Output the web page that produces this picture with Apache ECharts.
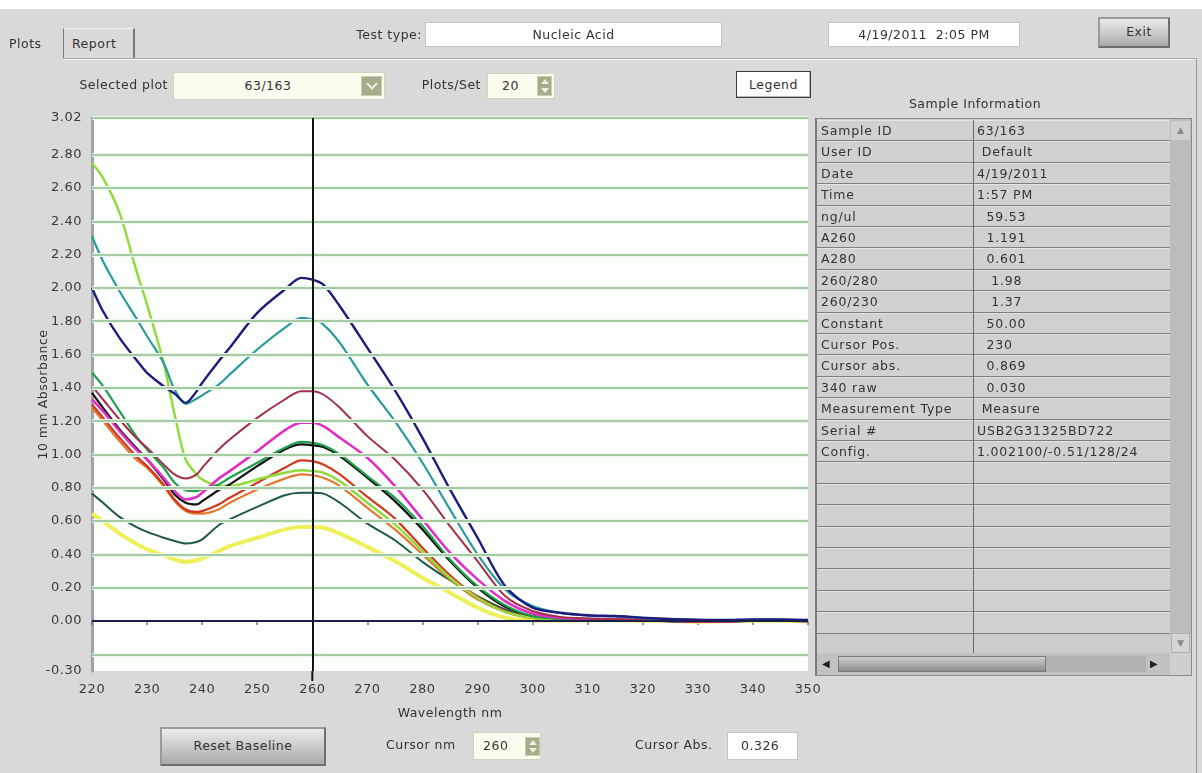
<!DOCTYPE html>
<html><head><meta charset="utf-8">
<script src="https://cdn.jsdelivr.net/npm/echarts@6/dist/echarts.min.js"></script>
<style>
html,body{margin:0;padding:0;width:1202px;height:773px;overflow:hidden;background:#d9d9d9;font-family:"DejaVu Sans",sans-serif;font-size:12.5px;color:#333;letter-spacing:0.5px;}
#chart{position:absolute;left:0;top:0;width:1202px;height:773px;}
.a{position:absolute;box-sizing:border-box;white-space:pre;}
.t{position:absolute;white-space:pre;line-height:16px;}
.olive{position:absolute;box-sizing:border-box;background:#a5ac88;border:1px solid #c9cdb8;}
.btn{position:absolute;box-sizing:border-box;background:linear-gradient(#ececec,#c4c4c4 60%,#a9a9a9);border:2px solid #6e6e6e;border-top-color:#9a9a9a;border-left-color:#9a9a9a;text-align:center;}
.row{position:absolute;box-sizing:border-box;left:817px;width:353px;background:#d1d1d1;border-bottom:1px solid #7e7e7e;border-top:1px solid #e4e4e4;}
.c1,.c2{position:absolute;top:0;white-space:pre;letter-spacing:0.8px;}
.c1{left:4px;}
.c2{left:160px;}
</style></head>
<body>
<div id="chart"></div>
<div id="ui"></div>
<script>
// ---------- data ----------
const wavelengths = [220,222,225,228,230,233,235,237,239,240,243,245,250,255,258,260,262,265,270,275,280,285,290,295,300,305,310,315,320,325,330,335,340,345,350];
const navy      = [2.00,1.86,1.70,1.57,1.49,1.41,1.365,1.31,1.38,1.43,1.56,1.64,1.85,1.99,2.06,2.05,2.02,1.89,1.64,1.385,1.10,0.79,0.50,0.21,0.08,0.05,0.035,0.03,0.02,0.012,0.008,0.006,0.01,0.01,0.006];
const teal      = [2.31,2.16,1.98,1.82,1.71,1.55,1.39,1.305,1.335,1.355,1.42,1.48,1.63,1.76,1.82,1.81,1.78,1.67,1.42,1.20,0.95,0.67,0.40,0.19,0.09,0.048,0.033,0.028,0.018,0.01,0.006,0.005,0.008,0.009,0.005];
const lightGreen= [2.75,2.66,2.45,2.11,1.90,1.55,1.24,0.97,0.88,0.85,0.81,0.81,0.85,0.89,0.905,0.90,0.89,0.84,0.71,0.58,0.42,0.26,0.14,0.055,0.02,0.01,0.01,0.008,0.004,0.0,-0.004,-0.002,0.003,0.003,0.0];
const maroon    = [1.41,1.33,1.21,1.10,1.04,0.94,0.88,0.855,0.88,0.92,1.03,1.09,1.22,1.33,1.38,1.38,1.36,1.28,1.11,0.97,0.79,0.57,0.36,0.15,0.06,0.025,0.015,0.01,0.005,0.0,-0.004,-0.003,0.003,0.004,0.0];
const magenta   = [1.33,1.26,1.14,1.03,0.97,0.86,0.78,0.73,0.745,0.77,0.855,0.90,1.02,1.145,1.19,1.19,1.17,1.10,0.98,0.81,0.61,0.41,0.25,0.12,0.045,0.02,0.013,0.01,0.005,0.0,-0.004,-0.003,0.003,0.004,0.0];
const green     = [1.49,1.41,1.26,1.11,1.03,0.92,0.83,0.785,0.78,0.79,0.82,0.86,0.95,1.04,1.075,1.07,1.055,1.00,0.87,0.74,0.57,0.37,0.21,0.095,0.03,0.015,0.012,0.01,0.005,0.0,-0.005,-0.003,0.003,0.004,0.0];
const black     = [1.37,1.28,1.15,1.04,0.97,0.85,0.76,0.71,0.70,0.72,0.785,0.82,0.93,1.03,1.06,1.055,1.045,0.99,0.86,0.72,0.55,0.36,0.20,0.085,0.03,0.015,0.012,0.01,0.005,0.0,-0.005,-0.003,0.003,0.004,0.0];
const rust      = [1.30,1.22,1.10,0.99,0.93,0.82,0.73,0.67,0.655,0.66,0.70,0.74,0.83,0.92,0.965,0.96,0.94,0.88,0.745,0.615,0.44,0.275,0.145,0.06,0.02,0.012,0.01,0.008,0.004,0.0,-0.004,-0.002,0.003,0.003,0.0];
const orange    = [1.28,1.20,1.08,0.97,0.92,0.81,0.72,0.66,0.645,0.645,0.67,0.71,0.79,0.855,0.88,0.875,0.86,0.81,0.68,0.55,0.40,0.25,0.13,0.055,0.018,0.01,0.01,0.008,0.004,0.0,-0.004,-0.002,0.003,0.003,0.0];
const darkTeal  = [0.765,0.71,0.625,0.565,0.535,0.50,0.48,0.465,0.475,0.49,0.575,0.61,0.685,0.755,0.77,0.77,0.765,0.71,0.585,0.485,0.355,0.245,0.15,0.07,0.02,0.01,0.01,0.008,0.004,0.0,-0.004,-0.002,0.003,0.003,0.0];
const yellow    = [0.645,0.60,0.525,0.465,0.43,0.395,0.37,0.355,0.365,0.375,0.42,0.45,0.50,0.55,0.565,0.565,0.56,0.525,0.445,0.36,0.26,0.17,0.08,0.02,0.005,0.003,0.004,0.004,0.002,0.0,-0.004,-0.002,0.002,0.002,0.0];

const yLabelValues = [-0.30,0.00,0.20,0.40,0.60,0.80,1.00,1.20,1.40,1.60,1.80,2.00,2.20,2.40,2.60,2.80,3.02];
const gridValues   = [-0.20,0.20,0.40,0.60,0.80,1.00,1.20,1.40,1.60,1.80,2.00,2.20,2.40,2.60,2.80,3.02];
const yMin = -0.30, yMax = 3.02, xMin = 220, xMax = 350, xStep = 10;
const cursorNm = 260;

const infoLabels = ["Sample ID","User ID","Date","Time","ng/ul","A260","A280","260/280","260/230","Constant","Cursor Pos.","Cursor abs.","340 raw","Measurement Type","Serial #","Config."];
const infoValues = ["63/163"," Default","4/19/2011","1:57 PM","  59.53","  1.191","  0.601","   1.98","   1.37","  50.00","  230","  0.869","  0.030"," Measure","USB2G31325BD722","1.002100/-0.51/128/24"];

// ---------- series ----------
const curves = [
  {name:'yellow', data:yellow, color:'#eef05a', width:4},
  {name:'darkTeal', data:darkTeal, color:'#1f5a4c', width:2},
  {name:'orange', data:orange, color:'#e07830', width:2.2},
  {name:'rust', data:rust, color:'#d2381f', width:2.2},
  {name:'lightGreen', data:lightGreen, color:'#92da3e', width:2.5},
  {name:'black', data:black, color:'#111111', width:2.2},
  {name:'green', data:green, color:'#1f9e4e', width:2.2},
  {name:'magenta', data:magenta, color:'#e02ec6', width:2.6},
  {name:'maroon', data:maroon, color:'#a3304a', width:2},
  {name:'teal', data:teal, color:'#2a9a9c', width:2.2},
  {name:'navy', data:navy, color:'#1c1c7e', width:2.4}
];

const font = 'DejaVu Sans';
const series = [
  {type:'line', data:[], z:1, silent:true,
   markLine:{silent:true, symbol:['none','none'], animation:false, label:{show:false},
     lineStyle:{type:'solid', color:'#ecf8ec', width:4},
     data: gridValues.map(v=>({yAxis:v}))}},
  {type:'line', data:[], z:2, silent:true,
   markLine:{silent:true, symbol:['none','none'], animation:false, label:{show:false},
     lineStyle:{type:'solid', color:'#8cbd8c', width:1.5},
     data: gridValues.map(v=>({yAxis:v})).concat([{yAxis:0, lineStyle:{color:'#15204c', width:2}}])}}
].concat(curves.map(c=>({
  type:'line', name:c.name, z:3, smooth:0.3, showSymbol:false, silent:true,
  lineStyle:{color:c.color, width:c.width}, itemStyle:{color:c.color},
  data: wavelengths.map((w,i)=>[w, c.data[i]])
}))).concat([
  {type:'line', data:[], z:6, silent:true,
   markLine:{silent:true, symbol:['none','none'], animation:false, label:{show:false},
     lineStyle:{type:'solid', color:'#111', width:2}, data:[{xAxis:cursorNm}]}}
]);

const chart = echarts.init(document.getElementById('chart'), null, {renderer:'canvas'});
chart.setOption({
  animation:false,
  backgroundColor:'transparent',
  grid:{left:92, right:394, top:118, bottom:102, show:true, backgroundColor:'#fdfffd', borderWidth:0},
  xAxis:{type:'value', min:xMin, max:xMax, interval:xStep, offset:2,
    name:'Wavelength nm', nameLocation:'middle', nameGap:34, nameMoveOverlap:false,
    nameTextStyle:{fontFamily:font, fontSize:12.5, color:'#333'},
    axisLine:{show:false}, splitLine:{show:false},
    axisTick:{show:true, length:4, lineStyle:{color:'#777', width:1.5}},
    axisLabel:{fontFamily:font, fontSize:13, color:'#3a3a3a', margin:10}},
  yAxis:{type:'value', min:yMin, max:yMax,
    name:'10 mm Absorbance', nameLocation:'middle', nameGap:42, nameRotate:90, nameMoveOverlap:false,
    nameTextStyle:{fontFamily:font, fontSize:12.5, color:'#333'},
    axisLine:{show:true, lineStyle:{color:'#a2a2a2', width:3}},
    splitLine:{show:false}, axisTick:{show:false},
    axisLabel:{customValues:yLabelValues, formatter:v=>Number(v).toFixed(2),
      fontFamily:font, fontSize:13, color:'#3a3a3a', margin:10}},
  series: series
});
// short extension of the cursor line below the plot
const pb = chart.convertToPixel({gridIndex:0}, [cursorNm, yMin]);
chart.setOption({graphic:[{type:'line', shape:{x1:pb[0], y1:pb[1], x2:pb[0], y2:pb[1]+10}, style:{stroke:'#111', lineWidth:2}}]});

// ---------- UI ----------
const ui = document.getElementById('ui');
function add(html){ ui.insertAdjacentHTML('beforeend', html); }
add('<div class="a" style="left:0;top:0;width:1202px;height:9px;background:#fff"></div>');
// tabs
add('<div class="t" style="left:9px;top:36px">Plots</div>');
add('<div class="a" style="left:63px;top:28px;width:72px;height:31px;border-left:1px solid #7a7a7a;border-right:2px solid #7a7a7a;border-top:1px solid #f2f2f2;background:#dadada"></div>');
add('<div class="t" style="left:72px;top:36px">Report</div>');
add('<div class="a" style="left:63px;top:58px;width:1133px;height:1px;background:#a9a9a9"></div>');
add('<div class="a" style="left:63px;top:59px;width:1133px;height:1px;background:#f5f5f5"></div>');
add('<div class="a" style="left:1196px;top:58px;width:1px;height:715px;background:#9a9a9a"></div>');
// test type
add('<div class="t" style="left:330px;top:27px;width:92px;text-align:right">Test type:</div>');
add('<div class="a" style="left:425px;top:22px;width:297px;height:25px;background:#fff;border:1px solid #c4c4c4;text-align:center;line-height:23px">Nucleic Acid</div>');
add('<div class="a" style="left:828px;top:22px;width:192px;height:25px;background:#fff;border:1px solid #c4c4c4;text-align:center;line-height:23px">4/19/2011  2:05 PM</div>');
add('<div class="btn" style="left:1098px;top:17px;width:72px;height:31px;line-height:26px;padding-left:10px">Exit</div>');
// selected plot
add('<div class="t" style="left:50px;top:77px;width:118px;text-align:right">Selected plot</div>');
add('<div class="a" style="left:173px;top:72px;width:212px;height:28px;background:#fcfcee;border:1px solid #d3d3c2"></div>');
add('<div class="t" style="left:173px;top:78px;width:190px;text-align:center">63/163</div>');
add('<div class="olive" style="left:361px;top:76px;width:21px;height:20px"><div style="position:absolute;left:6px;top:3px;width:6px;height:6px;border-right:2px solid #f0f0e8;border-bottom:2px solid #f0f0e8;transform:rotate(45deg)"></div></div>');
// plots/set
add('<div class="t" style="left:400px;top:77px;width:81px;text-align:right">Plots/Set</div>');
add('<div class="a" style="left:487px;top:73px;width:68px;height:26px;background:#fcfcee;border:1px solid #d3d3c2"></div>');
add('<div class="t" style="left:502px;top:78px">20</div>');
add('<div class="olive" style="left:537px;top:76px;width:15px;height:20px"><div style="position:absolute;left:3px;top:2px;width:0;height:0;border-left:4px solid transparent;border-right:4px solid transparent;border-bottom:5px solid #eeeee4"></div><div style="position:absolute;left:3px;top:11px;width:0;height:0;border-left:4px solid transparent;border-right:4px solid transparent;border-top:5px solid #eeeee4"></div></div>');
// legend
add('<div class="a" style="left:736px;top:71px;width:75px;height:27px;background:#fff;border:1px solid #3a3a3a;box-shadow:inset -1px -1px 0 #bbb;text-align:center;line-height:25px">Legend</div>');
add('<div class="t" style="left:880px;top:96px;width:190px;text-align:center">Sample Information</div>');
// table
add('<div class="a" style="left:815px;top:118px;width:377px;height:558px;background:#cdcdcd;border:1px solid #8a8a8a;border-left:2px solid #7a7a7a"></div>');
const tableTop = 120, rowH = 21.4, nRows = 24;
for (let i = 0; i < nRows; i++) {
  const lab = i < infoLabels.length ? infoLabels[i] : '';
  const val = i < infoValues.length ? infoValues[i] : '';
  add('<div class="row" style="top:' + (tableTop + i*rowH) + 'px;height:' + rowH + 'px"><div class="c1" style="line-height:' + (rowH-2) + 'px">' + lab + '</div><div class="c2" style="line-height:' + (rowH-2) + 'px">' + val + '</div></div>');
}
add('<div class="a" style="left:973px;top:120px;width:1px;height:533px;background:#6a6a6a"></div>');
// vertical scrollbar
add('<div class="a" style="left:1170px;top:119px;width:21px;height:514px;background:#bcbcbc"></div>');
add('<div class="a" style="left:1171px;top:121px;width:19px;height:19px;background:#d0d0d0;color:#8a8a8a;font-size:9px;text-align:center;line-height:19px;letter-spacing:0">▲</div>');
add('<div class="a" style="left:1171px;top:633px;width:19px;height:20px;background:#d4d4d4;border:1px solid #b0b0b0;color:#8a8a8a;font-size:9px;text-align:center;line-height:18px;letter-spacing:0">▼</div>');
add('<div class="a" style="left:1170px;top:653px;width:21px;height:22px;background:#cfcfcf"></div>');
// horizontal scrollbar
add('<div class="a" style="left:817px;top:653px;width:353px;height:22px;background:#c2c2c2"></div>');
add('<div class="a" style="left:822px;top:656px;width:14px;height:16px;color:#222;font-size:10px;line-height:16px;letter-spacing:0">◀</div>');
add('<div class="a" style="left:838px;top:656px;width:208px;height:16px;background:linear-gradient(#d0d0d0,#8c8c8c);border:1px solid #7a7a7a"></div>');
add('<div class="a" style="left:1046px;top:656px;width:100px;height:16px;background:#b2b2b2"></div>');
add('<div class="a" style="left:1150px;top:656px;width:14px;height:16px;color:#222;font-size:10px;line-height:16px;letter-spacing:0">▶</div>');
// bottom controls
add('<div class="btn" style="left:160px;top:727px;width:166px;height:39px;line-height:34px">Reset Baseline</div>');
add('<div class="t" style="left:386px;top:737px">Cursor nm</div>');
add('<div class="a" style="left:473px;top:732px;width:68px;height:28px;background:#fcfcee;border:1px solid #d3d3c2"></div>');
add('<div class="t" style="left:483px;top:738px">260</div>');
add('<div class="olive" style="left:525px;top:737px;width:15px;height:19px"><div style="position:absolute;left:3px;top:2px;width:0;height:0;border-left:4px solid transparent;border-right:4px solid transparent;border-bottom:5px solid #eeeee4"></div><div style="position:absolute;left:3px;top:10px;width:0;height:0;border-left:4px solid transparent;border-right:4px solid transparent;border-top:5px solid #eeeee4"></div></div>');
add('<div class="t" style="left:635px;top:737px">Cursor Abs.</div>');
add('<div class="a" style="left:727px;top:732px;width:71px;height:28px;background:#fff;border:1px solid #c4c4c4"></div>');
add('<div class="t" style="left:741px;top:738px">0.326</div>');
</script>
</body></html>
